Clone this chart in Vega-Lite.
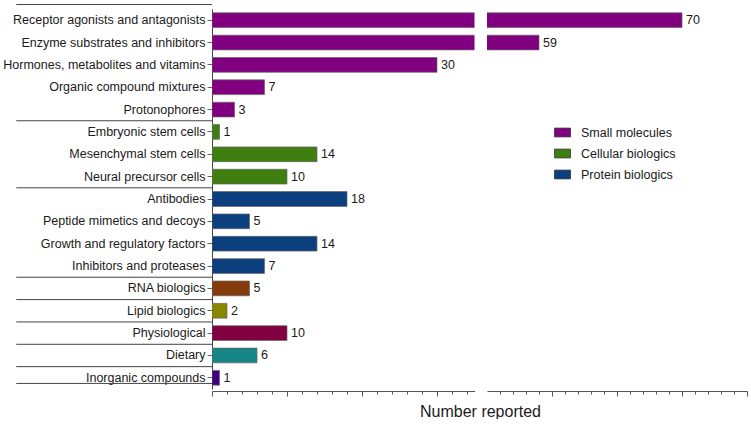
{
  "$schema": "https://vega.github.io/schema/vega-lite/v6.json",
  "padding": {"left": 2, "top": 4, "right": 0, "bottom": 0},
  "bounds": "flush",
  "datasets": {
    "bars": [
      {"cat": "Receptor agonists and antagonists", "value": 70, "group": "Small molecules"},
      {"cat": "Enzyme substrates and inhibitors", "value": 59, "group": "Small molecules"},
      {"cat": "Hormones, metabolites and vitamins", "value": 30, "group": "Small molecules"},
      {"cat": "Organic compound mixtures", "value": 7, "group": "Small molecules"},
      {"cat": "Protonophores", "value": 3, "group": "Small molecules"},
      {"cat": "Embryonic stem cells", "value": 1, "group": "Cellular biologics"},
      {"cat": "Mesenchymal stem cells", "value": 14, "group": "Cellular biologics"},
      {"cat": "Neural precursor cells", "value": 10, "group": "Cellular biologics"},
      {"cat": "Antibodies", "value": 18, "group": "Protein biologics"},
      {"cat": "Peptide mimetics and decoys", "value": 5, "group": "Protein biologics"},
      {"cat": "Growth and regulatory factors", "value": 14, "group": "Protein biologics"},
      {"cat": "Inhibitors and proteases", "value": 7, "group": "Protein biologics"},
      {"cat": "RNA biologics", "value": 5, "group": "RNA biologics"},
      {"cat": "Lipid biologics", "value": 2, "group": "Lipid biologics"},
      {"cat": "Physiological", "value": 10, "group": "Physiological"},
      {"cat": "Dietary", "value": 6, "group": "Dietary"},
      {"cat": "Inorganic compounds", "value": 1, "group": "Inorganic compounds"}
    ],
    "seps": [
      {"cat": "Embryonic stem cells"},
      {"cat": "Antibodies"},
      {"cat": "RNA biologics"},
      {"cat": "Lipid biologics"},
      {"cat": "Physiological"},
      {"cat": "Dietary"},
      {"cat": "Inorganic compounds"}
    ],
    "topEdge": [{"cat": "Receptor agonists and antagonists"}],
    "bottomEdge": [{"cat": "Inorganic compounds"}]
  },
  "hconcat": [
    {
      "width": 262.5,
      "height": 380,
      "resolve": {"axis": {"x": "independent"}},
      "layer": [
        {
          "data": {"name": "bars"},
          "mark": {"type": "bar", "height": {"band": 0.66}, "clip": true, "stroke": "#666", "strokeWidth": 0.7},
          "encoding": {
            "y": {"field": "cat", "type": "nominal", "sort": null,
              "scale": {"domain": ["Receptor agonists and antagonists","Enzyme substrates and inhibitors","Hormones, metabolites and vitamins","Organic compound mixtures","Protonophores","Embryonic stem cells","Mesenchymal stem cells","Neural precursor cells","Antibodies","Peptide mimetics and decoys","Growth and regulatory factors","Inhibitors and proteases","RNA biologics","Lipid biologics","Physiological","Dietary","Inorganic compounds"], "paddingInner": 0, "paddingOuter": 0},
              "axis": {"title": null, "labelFontSize": 12.5, "tickSize": 5, "labelPadding": 2, "labelLimit": 400, "domainColor": "#444", "tickColor": "#666", "labelColor": "#1a1a1a"}},
            "x": {"field": "value", "type": "quantitative", "scale": {"domain": [0, 35]},
              "axis": {"values": [0, 10, 20, 30], "labels": false, "tickSize": 5, "offset": 2, "grid": false, "domainColor": "#555", "tickColor": "#555",
                "title": "Number reported", "titleFontSize": 16, "titleFontWeight": "normal", "titleColor": "#1a1a1a", "titleX": 268, "titleY": 25, "titleAlign": "center", "titleBaseline": "alphabetic"}},
            "color": {"field": "group", "type": "nominal",
              "scale": {"domain": ["Small molecules","Cellular biologics","Protein biologics","RNA biologics","Lipid biologics","Physiological","Dietary","Inorganic compounds"],
                        "range": ["#800080","#3f7f10","#0b3f7e","#843c0c","#888800","#800040","#168585","#400080"]},
              "legend": null}
          }
        },
        {
          "data": {"name": "bars"},
          "transform": [{"filter": "datum.value <= 35"}],
          "mark": {"type": "text", "align": "left", "baseline": "middle", "dx": 4, "fontSize": 12.5, "color": "#1a1a1a"},
          "encoding": {
            "y": {"field": "cat", "type": "nominal", "sort": null},
            "x": {"field": "value", "type": "quantitative", "scale": {"domain": [0, 35]},
              "axis": {"orient": "bottom", "values": [2,4,6,8,12,14,16,18,22,24,26,28,32,34], "labels": false, "tickSize": 3, "offset": 2, "domain": false, "grid": false, "tickColor": "#555", "title": null}},
            "text": {"field": "value", "type": "quantitative"}
          }
        },
        {
          "data": {"name": "seps"},
          "mark": {"type": "rule", "color": "#444", "strokeWidth": 1},
          "encoding": {
            "y": {"field": "cat", "type": "nominal", "sort": null, "bandPosition": 0},
            "x": {"datum": -26.1, "type": "quantitative", "scale": {"domain": [0, 35]}, "axis": null},
            "x2": {"datum": 0}
          }
        },
        {
          "data": {"name": "topEdge"},
          "mark": {"type": "rule", "color": "#444", "strokeWidth": 1},
          "encoding": {
            "y": {"field": "cat", "type": "nominal", "sort": null, "bandPosition": -0.2},
            "x": {"datum": -26.1, "type": "quantitative", "scale": {"domain": [0, 35]}, "axis": null},
            "x2": {"datum": 0}
          }
        },
        {
          "data": {"name": "bottomEdge"},
          "mark": {"type": "rule", "color": "#444", "strokeWidth": 1},
          "encoding": {
            "y": {"field": "cat", "type": "nominal", "sort": null, "bandPosition": 0.75},
            "x": {"datum": -26.1, "type": "quantitative", "scale": {"domain": [0, 35]}, "axis": null},
            "x2": {"datum": 0}
          }
        }
      ]
    },
    {
      "width": 260,
      "height": 380,
      "resolve": {"axis": {"x": "independent"}},
      "layer": [
        {
          "data": {"name": "bars"},
          "mark": {"type": "bar", "height": {"band": 0.66}, "clip": true, "stroke": "#666", "strokeWidth": 0.7},
          "encoding": {
            "y": {"field": "cat", "type": "nominal", "sort": null,
              "scale": {"domain": ["Receptor agonists and antagonists","Enzyme substrates and inhibitors","Hormones, metabolites and vitamins","Organic compound mixtures","Protonophores","Embryonic stem cells","Mesenchymal stem cells","Neural precursor cells","Antibodies","Peptide mimetics and decoys","Growth and regulatory factors","Inhibitors and proteases","RNA biologics","Lipid biologics","Physiological","Dietary","Inorganic compounds"], "paddingInner": 0, "paddingOuter": 0},
              "axis": null},
            "x": {"field": "value", "type": "quantitative", "scale": {"domain": [55, 75]},
              "axis": {"values": [60, 65, 70, 75], "labels": false, "tickSize": 5, "offset": 2, "grid": false, "domainColor": "#555", "tickColor": "#555", "title": null}},
            "color": {"field": "group", "type": "nominal",
              "scale": {"domain": ["Small molecules","Cellular biologics","Protein biologics","RNA biologics","Lipid biologics","Physiological","Dietary","Inorganic compounds"],
                        "range": ["#800080","#3f7f10","#0b3f7e","#843c0c","#888800","#800040","#168585","#400080"]},
              "legend": {"values": ["Small molecules","Cellular biologics","Protein biologics"], "title": null, "orient": "none", "legendX": 67, "legendY": 115,
                "symbolType": "M-1,-0.55H1V0.55H-1Z", "symbolSize": 256, "symbolStrokeColor": "#333", "symbolStrokeWidth": 0.8,
                "labelFontSize": 12.5, "labelColor": "#1a1a1a", "labelOffset": 10, "rowPadding": 6}}
          }
        },
        {
          "data": {"name": "bars"},
          "transform": [{"filter": "datum.value > 35"}],
          "mark": {"type": "text", "align": "left", "baseline": "middle", "dx": 4, "fontSize": 12.5, "color": "#1a1a1a"},
          "encoding": {
            "y": {"field": "cat", "type": "nominal", "sort": null},
            "x": {"field": "value", "type": "quantitative", "scale": {"domain": [55, 75]},
              "axis": {"orient": "bottom", "values": [56,57,58,59,61,62,63,64,66,67,68,69,71,72,73,74], "labels": false, "tickSize": 3, "offset": 2, "domain": false, "grid": false, "tickColor": "#555", "title": null}},
            "text": {"field": "value", "type": "quantitative"}
          }
        }
      ]
    }
  ],
  "resolve": {"legend": {"color": "independent"}},
  "config": {
    "font": "Liberation Sans",
    "view": {"stroke": null},
    "concat": {"spacing": 12}
  }
}
